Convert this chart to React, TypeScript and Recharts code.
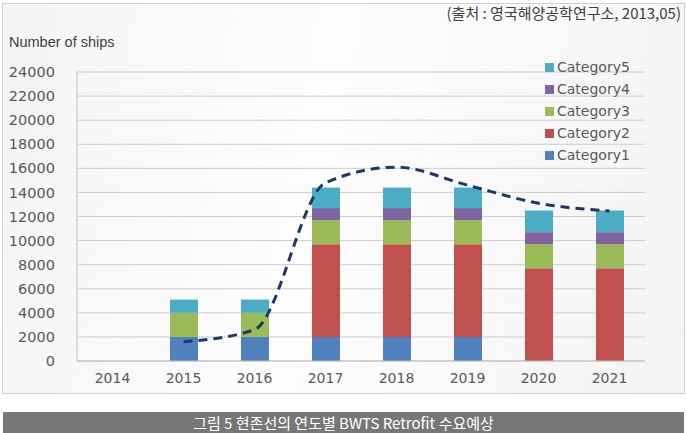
import { Bar, ComposedChart, CartesianGrid, Line, XAxis, YAxis } from 'recharts'

// 연도별 값
const years = ['2014', '2015', '2016', '2017', '2018', '2019', '2020', '2021']
const category1 = [0, 2000, 2000, 2000, 2000, 2000, 0, 0]
const category2 = [0, 0, 0, 7700, 7700, 7700, 7700, 7700]
const category3 = [0, 2000, 2000, 2000, 2000, 2000, 2000, 2000]
const category4 = [0, 0, 0, 1000, 1000, 1000, 1000, 1000]
const category5 = [0, 1100, 1100, 1700, 1700, 1700, 1800, 1800]
const trend = [null, 1600, 2600, 14800, 16100, 14600, 13100, 12450]
const yTicks = [0, 2000, 4000, 6000, 8000, 10000, 12000, 14000, 16000, 18000, 20000, 22000, 24000]

const series = [
  { key: 'Category1', color: '#4F81BD' },
  { key: 'Category2', color: '#C0504D' },
  { key: 'Category3', color: '#9BBB59' },
  { key: 'Category4', color: '#8064A2' },
  { key: 'Category5', color: '#4BACC6' }
]

const data = years.map((year, i) => ({
  year,
  Category1: category1[i],
  Category2: category2[i],
  Category3: category3[i],
  Category4: category4[i],
  Category5: category5[i],
  trend: trend[i]
}))

// 범례: 위에서부터 Category5 ~ Category1
function LegendBox() {
  return (
    <div style={{ position: 'absolute', left: 545, top: 56, fontFamily: 'DejaVu Sans', fontSize: 14, color: '#595959' }}>
      {[...series].reverse().map((s) => (
        <div key={s.key} style={{ display: 'flex', alignItems: 'center', height: 22 }}>
          <span style={{ width: 9, height: 9, background: s.color, marginRight: 3 }} />
          {s.key}
        </div>
      ))}
    </div>
  )
}

export default function App() {
  return (
    <div style={{ position: 'absolute', left: 0, top: 0, width: 687, height: 433, overflow: 'hidden', background: '#fff' }}>
      <div
        style={{
          position: 'absolute',
          left: 2,
          top: 3,
          width: 681,
          height: 389,
          border: '1px solid #cfcfcf',
          background: 'linear-gradient(100deg, #f4f4f4 0%, #fdfdfd 45%, #f3f3f3 100%)'
        }}
      />
      <div
        style={{
          position: 'absolute',
          right: 6,
          top: 2,
          fontFamily: 'Noto Sans CJK KR',
          fontSize: 15,
          color: '#404040'
        }}
      >
        (출처 : 영국해양공학연구소, 2013,05)
      </div>
      <div style={{ position: 'absolute', left: 9, top: 34, fontFamily: 'Liberation Sans', fontSize: 14.5, color: '#404040' }}>
        Number of ships
      </div>
      <div style={{ position: 'absolute', left: 0, top: 0 }}>
        <ComposedChart width={687} height={433} data={data} margin={{ top: 72, right: 42, bottom: 42, left: 0 }}>
          <CartesianGrid stroke="#cccccc" vertical={false} />
          <XAxis
            dataKey="year"
            height={30}
            tickLine={false}
            axisLine={{ stroke: '#bfbfbf' }}
            tick={{ fill: '#595959', fontSize: 14, fontFamily: 'DejaVu Sans' }}
            tickMargin={6}
          />
          <YAxis
            width={77}
            domain={[0, 24000]}
            ticks={yTicks}
            interval={0}
            tickLine={false}
            tickSize={6}
            tickMargin={16}
            axisLine={{ stroke: '#bfbfbf' }}
            tick={{ fill: '#595959', fontSize: 14.5, fontFamily: 'DejaVu Sans' }}
          />
          {series.map((s) => (
            <Bar key={s.key} dataKey={s.key} stackId="a" fill={s.color} barSize={28} isAnimationActive={false} />
          ))}
          <Line
            dataKey="trend"
            type="monotone"
            stroke="#1F3864"
            strokeWidth={3}
            strokeDasharray="9 6"
            dot={false}
            isAnimationActive={false}
          />
        </ComposedChart>
      </div>
      <LegendBox />
      <div
        style={{
          position: 'absolute',
          left: 3,
          top: 412,
          width: 681,
          height: 21,
          background: '#777777',
          color: '#ffffff',
          fontFamily: 'Noto Sans CJK KR',
          fontSize: 15,
          lineHeight: '21px',
          textAlign: 'center'
        }}
      >
        그림 5 현존선의 연도별 BWTS Retrofit 수요예상
      </div>
    </div>
  )
}
